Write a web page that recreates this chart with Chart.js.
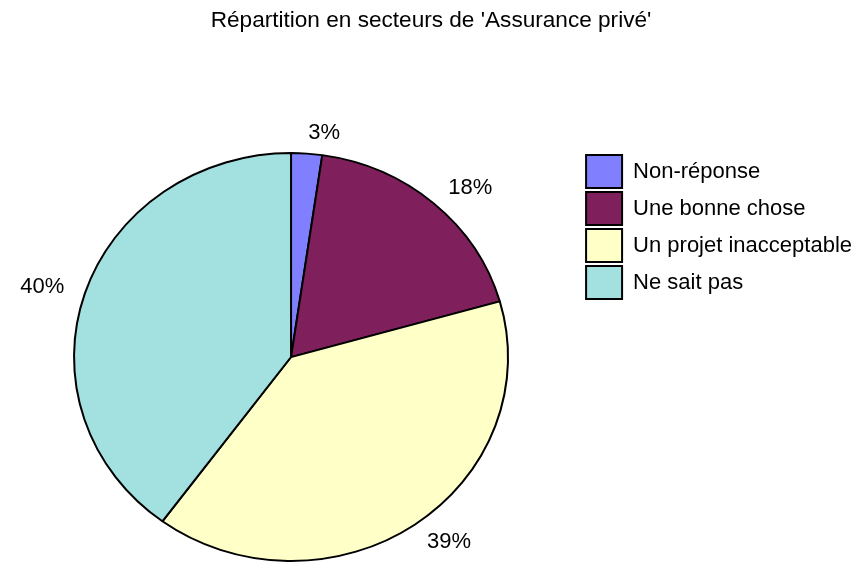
<!DOCTYPE html>
<html>
<head>
<meta charset="utf-8">
<script src="https://cdn.jsdelivr.net/npm/chart.js@4/dist/chart.umd.min.js"></script>
<style>
  body { margin: 0; background: #fff; }
  #wrap { width: 862px; height: 563px; }
</style>
</head>
<body>
<div id="wrap"><canvas id="pieChart"></canvas></div>
<script>
"use strict";

// data
const categories = ["Non-réponse", "Une bonne chose", "Un projet inacceptable", "Ne sait pas"];
const shares = [2.3, 18.3, 39.5, 39.9];
const percentLabels = ["3%", "18%", "39%", "40%"];
const sliceColors = ["#8080ff", "#7f1f5b", "#ffffc8", "#a3e0e0"];

const squash = 204 / 217; // the pie is a little flatter than round

Chart.defaults.font.family = "'Liberation Sans', Arial, Helvetica, sans-serif";
Chart.defaults.color = "#000";

// squeeze the pie vertically, then write the percentages outside
const ovalPie = {
  id: "ovalPie",
  beforeDatasetsDraw(chart) {
    const arc = chart.getDatasetMeta(0).data[0];
    const ctx = chart.ctx;
    ctx.save();
    ctx.translate(arc.x, arc.y);
    ctx.scale(1, squash);
    ctx.translate(-arc.x, -arc.y);
  },
  afterDatasetsDraw(chart) {
    const ctx = chart.ctx;
    ctx.restore();
    ctx.save();
    ctx.font = "22px 'Liberation Sans', Arial, sans-serif";
    ctx.fillStyle = "#000";
    ctx.textBaseline = "middle";
    chart.getDatasetMeta(0).data.forEach((arc, i) => {
      const mid = (arc.startAngle + arc.endAngle) / 2;
      const r = arc.outerRadius * 1.1;
      const x = arc.x + r * Math.cos(mid);
      const y = arc.y + r * squash * Math.sin(mid);
      ctx.textAlign = Math.cos(mid) >= 0 ? "left" : "right";
      ctx.fillText(percentLabels[i], x, y);
    });
    ctx.restore();
  },
};

const config = {
  type: "pie",
  data: {
    labels: categories,
    datasets: [
      {
        data: shares,
        backgroundColor: sliceColors,
        borderColor: "#000",
        borderWidth: 2,
        radius: 217,
        clip: false,
      },
    ],
  },
  options: {
    responsive: true,
    maintainAspectRatio: false,
    animation: false,
    layout: {
      padding: 0,
    },
    plugins: {
      title: {
        display: true,
        text: "Répartition en secteurs de 'Assurance privé'",
        font: { size: 22.6, weight: "normal" },
        color: "#000",
        padding: { top: 7, bottom: 117 },
      },
      legend: {
        position: "right",
        align: "start",
        fullSize: false,
        labels: {
          boxWidth: 36,
          boxHeight: 33,
          padding: 4,
          font: { size: 22 },
          color: "#000",
        },
      },
      tooltip: { enabled: false },
    },
  },
  plugins: [ovalPie],
};

const myChart = new Chart(document.getElementById("pieChart"), config);
</script>
</body>
</html>
